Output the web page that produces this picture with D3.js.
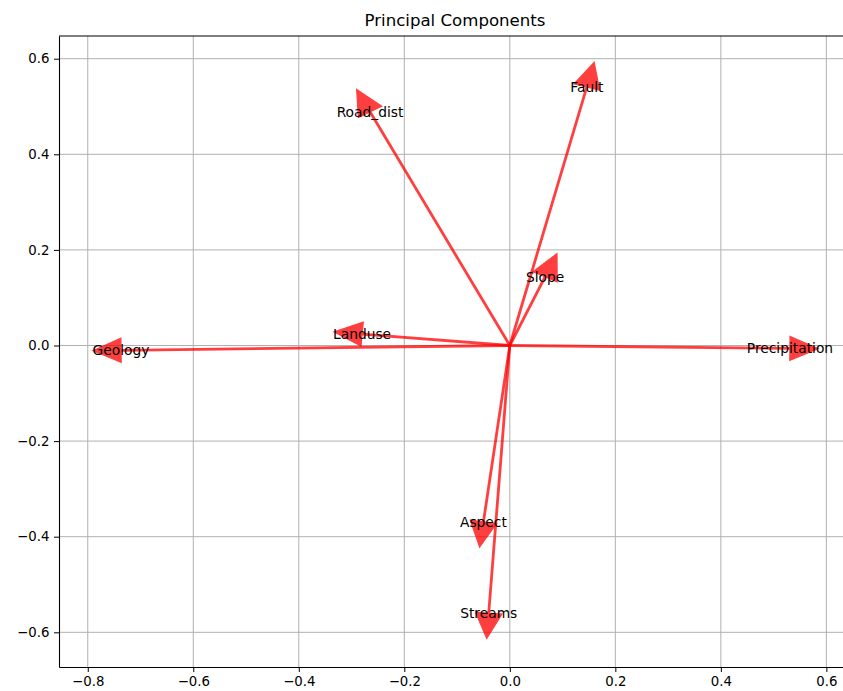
<!DOCTYPE html>
<html>
<head>
<meta charset="utf-8">
<script src="https://cdn.jsdelivr.net/npm/d3@7"></script>
<style>
  body { margin: 0; background: #fff; }
  text { font-family: "DejaVu Sans", sans-serif; }
</style>
</head>
<body>
<svg id="chart" width="843" height="691"></svg>
<script>
// loadings (end of shaft = head base = label position)
const features = ["Geology", "Landuse", "Road_dist", "Fault", "Slope", "Precipitation", "Aspect", "Streams"];
const pc1 = [-0.737, -0.280, -0.265, 0.146, 0.067, 0.531, -0.050, -0.040];
const pc2 = [-0.010, 0.024, 0.489, 0.541, 0.144, -0.006, -0.369, -0.560];
const xTicks = [-0.8, -0.6, -0.4, -0.2, 0.0, 0.2, 0.4, 0.6];
const yTicks = [-0.6, -0.4, -0.2, 0.0, 0.2, 0.4, 0.6];

var svg = d3.select("#chart"),
    plotLeft = 59, plotRight = 851, plotTop = 36, plotBottom = 667,
    headW = 0.05, headL = 0.053;

var x = d3.scaleLinear().domain([-0.8545, 0.6467]).range([plotLeft, plotRight]);
var y = d3.scaleLinear().domain([-0.6726, 0.6475]).range([plotBottom, plotTop]);

// grid
svg.append("g").selectAll("line").data(xTicks).join("line")
    .attr("x1", d => x(d)).attr("x2", d => x(d))
    .attr("y1", plotTop).attr("y2", plotBottom)
    .attr("stroke", "#b0b0b0").attr("stroke-width", 1);
svg.append("g").selectAll("line").data(yTicks).join("line")
    .attr("x1", plotLeft).attr("x2", plotRight)
    .attr("y1", d => y(d)).attr("y2", d => y(d))
    .attr("stroke", "#b0b0b0").attr("stroke-width", 1);

// arrows
var arrows = svg.append("g");
features.forEach(function (name, i) {
    var ex = pc1[i], ey = pc2[i];
    var len = Math.sqrt(ex * ex + ey * ey);
    var ux = ex / len, uy = ey / len;
    // head built in data units like matplotlib does
    var tip = [ex + ux * headL, ey + uy * headL];
    var c1 = [ex - uy * headW / 2, ey + ux * headW / 2];
    var c2 = [ex + uy * headW / 2, ey - ux * headW / 2];
    var g = arrows.append("g").attr("opacity", 0.75);
    g.append("line")
        .attr("x1", x(0)).attr("y1", y(0))
        .attr("x2", x(ex)).attr("y2", y(ey))
        .attr("stroke", "red").attr("stroke-width", 2.8);
    g.append("path")
        .attr("d", "M" + x(tip[0]) + "," + y(tip[1]) +
                   "L" + x(c1[0]) + "," + y(c1[1]) +
                   "L" + x(c2[0]) + "," + y(c2[1]) + "Z")
        .attr("fill", "red").attr("stroke", "red")
        .attr("stroke-width", 1.3).attr("stroke-linejoin", "miter");
});

svg.append("g").selectAll("text").data(features).join("text")
    .attr("x", (d, i) => x(pc1[i]))
    .attr("y", (d, i) => y(pc2[i]))
    .attr("text-anchor", "middle")
    .attr("dominant-baseline", "central")
    .attr("font-size", "13.8px")
    .attr("fill", "#000")
    .text(d => d);

// axes
var fmt = d3.format(".1f");
var xAxis = svg.append("g").attr("transform", "translate(0," + plotBottom + ")")
    .call(d3.axisBottom(x).tickValues(xTicks).tickFormat(fmt).tickSize(5).tickSizeOuter(0).tickPadding(4.6));
var yAxis = svg.append("g").attr("transform", "translate(" + plotLeft + ",0)")
    .call(d3.axisLeft(y).tickValues(yTicks).tickFormat(fmt).tickSize(5).tickSizeOuter(0).tickPadding(4.6));
[xAxis, yAxis].forEach(function (a) {
    a.selectAll("text").attr("font-size", "13.3px").attr("fill", "#000")
        .style("font-family", "DejaVu Sans, sans-serif");
    a.selectAll("line").attr("stroke", "#000");
    a.select(".domain").attr("stroke", "#000").attr("stroke-width", 1.1);
});

// top spine
svg.append("line")
    .attr("x1", plotLeft).attr("x2", plotRight)
    .attr("y1", plotTop).attr("y2", plotTop)
    .attr("stroke", "#000").attr("stroke-width", 1.1);

svg.append("text")
    .attr("x", (plotLeft + plotRight) / 2)
    .attr("y", 26)
    .attr("text-anchor", "middle")
    .attr("font-size", "16.6px")
    .attr("fill", "#000")
    .text("Principal Components");
</script>
</body>
</html>
